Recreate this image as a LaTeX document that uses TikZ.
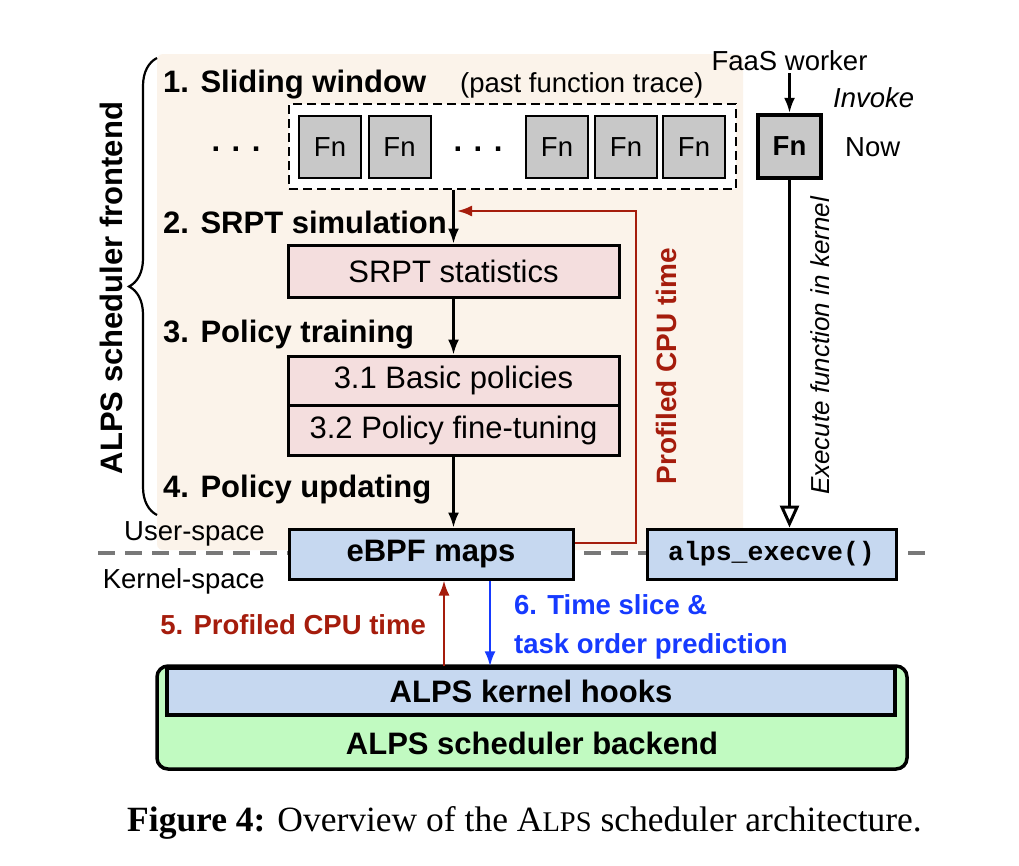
\documentclass[tikz,border=0pt]{standalone}
\usepackage{fontspec}
\setmainfont{Liberation Sans}
\newfontfamily\capfont{Liberation Serif}
\newfontfamily\codefont{Liberation Mono}
\usetikzlibrary{arrows.meta,calc,decorations.pathreplacing}
\definecolor{peach}{RGB}{251,243,234}
\definecolor{fngray}{RGB}{200,200,200}
\definecolor{pinkc}{RGB}{244,222,222}
\definecolor{boxblue}{RGB}{198,216,240}
\definecolor{greenc}{RGB}{193,250,193}
\definecolor{darkred}{RGB}{165,28,12}
\definecolor{textblue}{RGB}{22,58,255}
\definecolor{sepgray}{RGB}{120,120,120}
\newcommand\szL{\fontsize{31}{37}\selectfont}
\newcommand\szM{\fontsize{27.5}{33}\selectfont}
\newcommand\szF{\fontsize{27.5}{32}\selectfont}
\begin{document}
\begin{tikzpicture}[x=1pt,y=-1pt,
  lab/.style={font=\szL\bfseries, inner sep=0pt},
  plain/.style={font=\szF, inner sep=0pt},
  fnbox/.style={draw=black, fill=fngray, line width=2pt, minimum width=62pt, minimum height=62pt, inner sep=0pt, font=\szF},
  pbox/.style={draw=black, fill=pinkc, line width=3pt, minimum width=331pt, inner sep=0pt, font=\szL},
  bbox/.style={draw=black, fill=boxblue, line width=3pt, inner sep=0pt},
  arr/.style={draw=black, line width=2.2pt, -{Latex[length=15pt,width=11pt]}},
  redarr/.style={draw=darkred, line width=2.2pt, -{Latex[length=15pt,width=11pt]}},
  bluearr/.style={draw=textblue, line width=2.2pt, -{Latex[length=15pt,width=11pt]}},
  sepline/.style={draw=sepgray, line width=3.5pt, dash pattern=on 17pt off 10pt}
]
\useasboundingbox (0,0) rectangle (1019,865);
\fill[white] (0,0) rectangle (1019,865);
% frontend background
\fill[peach, rounded corners=6pt] (157,54) rectangle (743,550);
% user/kernel separator
\coordinate (sepL) at (98,553);
\coordinate (sepR) at (925,553);
\draw[sepline] (sepL) -- (sepR);
% brace and frontend title
\coordinate (braceB) at (157,515);
\coordinate (braceT) at (157,58);
\draw[line width=2.2pt, decorate, decoration={brace, amplitude=28pt}] (braceB) -- (braceT);
\node[lab, rotate=90, anchor=base] (front) at (122,288) {ALPS scheduler frontend};
% step labels
\node[lab, anchor=base west] (s1) at (163,92) {1. Sliding window};
\node[plain, anchor=base west] (past) at (460,92) {(past function trace)};
\node[lab, anchor=base west] (s2) at (163,233) {2. SRPT simulation};
\node[lab, anchor=base west] (s3) at (163,342) {3. Policy training};
\node[lab, anchor=base west] (s4) at (163,497) {4. Policy updating};
% sliding window
\node[draw=black, fill=white, line width=2pt, dash pattern=on 9pt off 5pt, minimum width=447pt, minimum height=85pt, inner sep=0pt] (window) at (512.5,146.5) {};
\node[fnbox] (f1) at (330,147) {Fn};
\node[fnbox] (f2) at (399.5,147) {Fn};
\node[fnbox] (f3) at (557,147) {Fn};
\node[fnbox] (f4) at (626,147) {Fn};
\node[fnbox] (f5) at (694,147) {Fn};
\node[lab, anchor=base] (dotsL) at (236,151) {. . .};
\node[lab, anchor=base] (dotsM) at (478,151) {. . .};
% FaaS worker
\node[plain, anchor=base, inner sep=3pt] (faas) at (789.5,70) {FaaS worker};
\node[draw=black, fill=fngray, line width=4.5pt, minimum width=63pt, minimum height=63pt, inner sep=0pt, font=\szF\bfseries] (fnnow) at (789.5,146.5) {Fn};
\node[plain, anchor=base west, font=\szF\itshape] (invoke) at (833,107) {Invoke};
\node[plain, anchor=base west] (now) at (845,156) {Now};
% pipeline boxes
\node[pbox, minimum height=52pt] (srpt) at (453.5,271) {SRPT statistics};
\node[pbox, minimum height=49.5pt] (pol1) at (453.5,380.75) {3.1 Basic policies};
\node[pbox, minimum height=49.5pt] (pol2) at (453.5,430.25) {3.2 Policy fine-tuning};
\node[bbox, minimum width=284pt, minimum height=50pt, font=\szL\bfseries] (ebpf) at (431,554) {eBPF maps};
\node[bbox, minimum width=249pt, minimum height=50pt, font=\codefont\fontsize{26.5}{30}\selectfont\bfseries] (execve) at (771.5,554) {alps\_execve()};
% backend
\node[draw=black, fill=greenc, line width=3.5pt, rounded corners=11pt, minimum width=750pt, minimum height=103pt, inner sep=0pt] (backend) at (532,717.5) {};
\node[bbox, line width=3.5pt, minimum width=728pt, minimum height=47pt, font=\szL\bfseries] (hooks) at (531,691.5) {ALPS kernel hooks};
\node[lab, anchor=base] (backendlbl) at (532,754) {ALPS scheduler backend};
% black arrows
\draw[arr] (srpt.north |- window.south) -- (srpt.north);
\draw[arr] (srpt.south) -- (pol1.north);
\draw[arr] (pol2.south) -- (pol2.south |- ebpf.north);
\draw[arr] (faas.south) -- (fnnow.north);
\draw[draw=black, line width=3pt, -{Triangle[open, length=22pt, width=19pt, fill=white]}] (fnnow.south) -- (fnnow.south |- execve.north);
\node[plain, rotate=90, anchor=base, font=\fontsize{26}{30}\selectfont\itshape] (exec) at (829,346) {Execute function in kernel};
% feedback loop
\coordinate (rstart) at ($(ebpf.east)+(0,-11)$);
\coordinate (rtop) at (636,211);
\coordinate (rtip) at (457,211);
\draw[redarr] (rstart) -| (rtop) -- (rtip);
\node[lab, rotate=90, anchor=base, font=\fontsize{28}{32}\selectfont\bfseries, text=darkred] (prof) at (676,366) {Profiled CPU time};
% kernel arrows
\coordinate (r5) at ($(ebpf.south)+(13,0)$);
\coordinate (b6) at ($(ebpf.south)+(59,0)$);
\draw[redarr] (r5 |- hooks.north) -- (r5);
\draw[bluearr] (b6) -- (b6 |- hooks.north);
\node[lab, anchor=base east, font=\szM\bfseries, text=darkred] (l5) at (426,634) {5. Profiled CPU time};
\node[lab, anchor=base west, font=\szM\bfseries, text=textblue] (l6a) at (514,614) {6. Time slice \&};
\node[lab, anchor=base west, font=\szM\bfseries, text=textblue] (l6b) at (514,653) {task order prediction};
% space labels
\node[plain, anchor=base east] (user) at (265,540) {User-space};
\node[plain, anchor=base east] (kern) at (265,588) {Kernel-space};
% caption
\node[anchor=base west, inner sep=0pt, font=\capfont\fontsize{35.5}{40}\selectfont] (cap) at (127,831) {\textbf{Figure 4:} Overview of the A{\fontsize{28.5}{32}\selectfont LPS} scheduler architecture.};
\end{tikzpicture}
\end{document}
